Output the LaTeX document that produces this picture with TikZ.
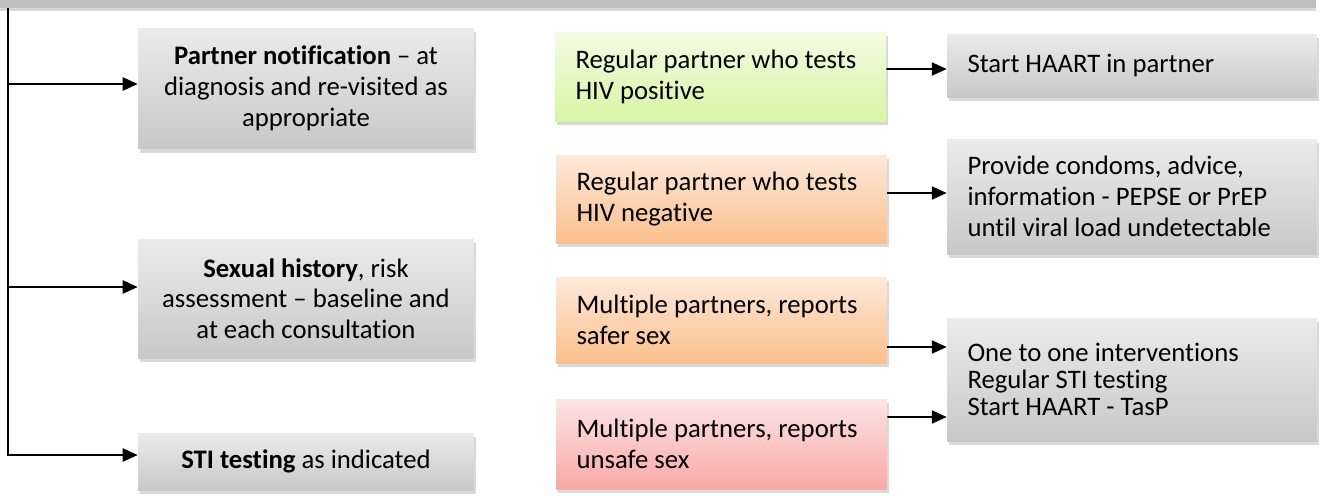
\documentclass[tikz,border=0pt]{standalone}
\usepackage{fontspec}
\setmainfont{Carlito}[Ligatures={TeX,NoCommon}]
\usetikzlibrary{shapes,arrows.meta,positioning,calc,shadows}
\definecolor{greyTop}{HTML}{EBEBEB}
\definecolor{greyBot}{HTML}{C8C8C8}
\definecolor{limeTop}{HTML}{F3FBE3}
\definecolor{limeBot}{HTML}{D7F6A5}
\definecolor{peachTop}{HTML}{FDE9DA}
\definecolor{peachBot}{HTML}{FBBF8D}
\definecolor{roseTop}{HTML}{FDE4E4}
\definecolor{roseBot}{HTML}{FAA8A8}
\tikzstyle{box} = [rectangle, draw=none, inner ysep=2pt, font=\fontsize{15.2pt}{17.5pt}\selectfont, drop shadow={shadow xshift=1.2pt,shadow yshift=-2pt,opacity=0.3}]
\tikzstyle{care} = [box, top color=greyTop, bottom color=greyBot, minimum width=6.72cm, text width=6.2cm, inner xsep=0.26cm, align=flush center]
\tikzstyle{action} = [box, top color=greyTop, bottom color=greyBot, text width=6.58cm, inner xsep=0.41cm, align=flush left]
\tikzstyle{partner} = [box, text width=5.8cm, inner xsep=0.41cm, align=flush left]
\tikzstyle{posbox} = [partner, top color=limeTop, bottom color=limeBot]
\tikzstyle{negbox} = [partner, top color=peachTop, bottom color=peachBot]
\tikzstyle{unsafebox} = [partner, top color=roseTop, bottom color=roseBot]
\tikzstyle{headbar} = [rectangle, draw=none, fill=gray!50, minimum width=26.32cm, minimum height=0.32cm, drop shadow={shadow xshift=0pt,shadow yshift=-1.5pt,opacity=0.3}]
\tikzstyle{line} = [line width=1pt]
\tikzstyle{arrow} = [line width=1pt,-{Triangle[length=8.5pt,width=7.5pt]}]

\begin{document}
\begin{tikzpicture}[x=0.02cm,y=-0.02cm]
\useasboundingbox (0,0) rectangle (1324,495);

\node (head) [headbar] at (658,0) {};

% left column
\node (pn) [care, minimum height=2.42cm] at (306,88.5) {\textbf{Partner notification} – at\\ diagnosis and re-visited as\\ appropriate};
\node (sh) [care, minimum height=2.38cm] at (306,298.5) {\textbf{Sexual history}, risk\\ assessment – baseline and\\ at each consultation};
\node (sti) [care, minimum height=1.14cm] at (306,461.5) {\textbf{STI testing} as indicated};

% partner groups
\node (pos) [posbox, minimum height=1.78cm] at (720.5,76.5) {Regular partner who tests\\ HIV positive};
\node (neg) [negbox, minimum height=1.76cm] at (721.5,199) {Regular partner who tests\\ HIV negative};
\node (safer) [negbox, minimum height=1.72cm] at (721.5,320) {Multiple partners, reports\\ safer sex};
\node (unsafe) [unsafebox, minimum height=1.8cm] at (721.5,444) {Multiple partners, reports\\ unsafe sex};

% actions
\node (haart) [action, minimum height=1.26cm] at (1132,65.5) {Start HAART in partner};
\node (cond) [action, minimum height=2.3cm] at (1132,196.5) {Provide condoms, advice,\\ information - PEPSE or PrEP\\ until viral load undetectable};
\node (one) [action, minimum height=2.46cm, font=\fontsize{15.2pt}{15.4pt}\selectfont] at (1132,379.5) {One to one interventions\\ Regular STI testing\\ Start HAART - TasP};

% trunk on the left
\coordinate (trunk) at (8,0);
\coordinate (pnin) at ($(pn.west)+(0,-4.5)$);
\coordinate (shin) at ($(sh.west)+(0,-11.5)$);
\coordinate (stiin) at ($(sti.west)+(0,-6.5)$);
\draw [arrow] (trunk |- head.south) |- (stiin);
\draw [arrow] (trunk |- pnin) -- (pnin);
\draw [arrow] (trunk |- shin) -- (shin);

\draw [arrow] ($(pos.east)+(0,-7.5)$) -- ($(haart.west)+(0,3.5)$);
\draw [arrow] ($(neg.east)+(0,-6)$) -- ($(cond.west)+(0,-3.5)$);
\draw [arrow] ($(safer.east)+(0,27)$) -- ($(one.west)+(0,-32.5)$);
\draw [arrow] ($(unsafe.east)+(0,-27)$) -- ($(one.west)+(0,37.5)$);
\end{tikzpicture}
\end{document}
